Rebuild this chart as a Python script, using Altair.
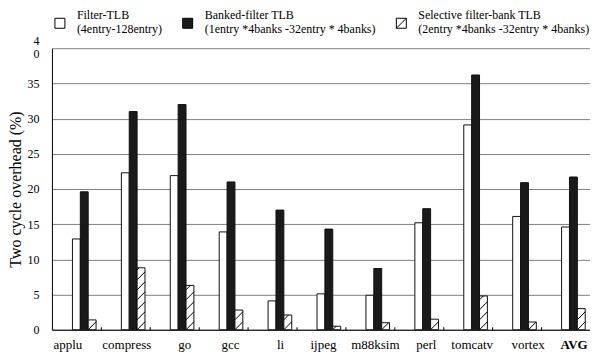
import json
import altair as alt
import pandas as pd

# ---- data ----
categories = ["applu", "compress", "go", "gcc", "li", "ijpeg",
              "m88ksim", "perl", "tomcatv", "vortex", "AVG"]
series = ["Filter-TLB", "Banked-filter TLB", "Selective filter-bank TLB"]
series_sub = ["(4entry-128entry)",
              "(1entry *4banks -32entry * 4banks)",
              "(2entry *4banks -32entry * 4banks)"]
filter_tlb = [12.9, 22.3, 21.9, 13.9, 4.1, 5.1, 4.9, 15.2, 29.1, 16.1, 14.6]
banked_filter = [19.6, 31.0, 32.0, 21.0, 17.0, 14.3, 8.7, 17.2, 36.2, 20.9, 21.7]
selective_bank = [1.4, 8.8, 6.3, 2.8, 2.1, 0.5, 1.0, 1.5, 4.8, 1.1, 3.0]
y_ticks = [0, 5, 10, 15, 20, 25, 30, 35, 40]

# ---- layout / style settings ----
W, H = 539, 282
FONT = "Liberation Serif"
SLOT_W = 0.161          # bar width in category units
SLOT_PAD = 0.0975       # outer padding in category units
SLOTS = [2, 3, 4]       # Excel-like 5-slot layout, first two empty
label_offsets_px = [-9, 1, 10, 7, 8, 2, 5, 7, 4, 11, 8]
legend_pad_front = [5, 14, 8]
HATCH_RISE = 8 / (H / 40)     # data units
HATCH_STEP = 10 / (H / 40)
band_px = W / len(categories)

values = [filter_tlb, banked_filter, selective_bank]
rows = []
for s_i, (name, vals) in enumerate(zip(series, values)):
    for c_i, (cat, v) in enumerate(zip(categories, vals)):
        x0 = c_i + SLOT_PAD + SLOTS[s_i] * SLOT_W
        rows.append({"cat": cat, "series": name, "value": v, "base": 0.0,
                     "x": x0, "x2": x0 + SLOT_W})
df = pd.DataFrame(rows)

# hatch segments for the selective bars, clipped to each bar
hatch = []
for c_i, v in enumerate(selective_bank):
    xl = c_i + SLOT_PAD + SLOTS[2] * SLOT_W
    k = -1
    while k * HATCH_STEP < v:
        c = k * HATCH_STEP
        t0 = max(0.0, (0 - c) / HATCH_RISE)
        t1 = min(1.0, (v - c) / HATCH_RISE)
        if t0 < t1:
            hatch.append({"hx1": xl + t0 * SLOT_W, "hy1": c + t0 * HATCH_RISE,
                          "hx2": xl + t1 * SLOT_W, "hy2": c + t1 * HATCH_RISE})
        k += 1
hdf = pd.DataFrame(hatch)

xscale = alt.Scale(domain=[0, len(categories)], nice=False, zero=False)
yscale = alt.Scale(domain=[0, 40], nice=False)
fill_scale = alt.Scale(domain=series, range=["#ffffff", "#1a1a1a", "#ffffff"])
stroke_scale = alt.Scale(domain=series, range=["#000000", "#000000", "#000000"])
shape_scale = alt.Scale(domain=series, range=[
    "M-1,-1H1V1H-1Z", "M-1,-1H1V1H-1Z", "M-1,-1H1V1H-1Z M-1,1L1,-1"])

NB = "\u00a0"
parts = []
for name, sub, pf in zip(series, series_sub, legend_pad_front):
    parts.append((name, [NB * pf + name, sub]))
expr = "datum.label"
for name, lines in reversed(parts):
    expr = f"datum.label == {json.dumps(name)} ? {json.dumps(lines, ensure_ascii=False)} : ({expr})"

legend = alt.Legend(title=None, orient="none", legendX=2, legendY=-31,
                    direction="horizontal", labelExpr=expr, labelFont=FONT,
                    labelFontSize=12, labelColor="black", labelLimit=400,
                    labelBaseline="line-bottom",
                    symbolSize=100, symbolStrokeColor="black",
                    symbolStrokeWidth=1, columnPadding=18,
                    labelOffset=11, padding=0)

# category label positions: band centre plus a small per-label shift
label_pos = [i + 0.5 + o / band_px for i, o in enumerate(label_offsets_px)]

x_axis = alt.Axis(
    values=label_pos,
    labelExpr=f"{json.dumps(categories)}[floor(datum.value)]",
    labelFontWeight={"condition": {"test": f"datum.value > {len(categories) - 1}",
                                   "value": "bold"}, "value": "normal"},
    labelFont=FONT, labelFontSize=13, labelColor="black", labelPadding=9,
    ticks=False, grid=False, domainColor="black", title=None, labelAngle=0,
    orient="bottom")

y_axis = alt.Axis(values=y_ticks, grid=True, gridColor="#808080", gridWidth=1,
                  ticks=False, domainColor="black",
                  labelExpr="datum.value == 40 ? ['4','0'] : datum.label",
                  labelOffset={"condition": {"test": "datum.value == 40", "value": -8},
                               "value": 0},
                  labelLineHeight=13,
                  labelFont=FONT, labelFontSize=12, labelColor="black",
                  labelPadding=13, title="Two cycle overhead (%)",
                  titleFont=FONT, titleFontSize=16, titleFontWeight="normal",
                  titleColor="black", titlePadding=3)

bars = alt.Chart(df).mark_rect(stroke="#111111", strokeWidth=1).encode(
    x=alt.X("x:Q", scale=xscale, axis=x_axis),
    x2="x2:Q",
    y=alt.Y("value:Q", scale=yscale, axis=y_axis),
    y2="base:Q",
    fill=alt.Fill("series:N", scale=fill_scale, legend=legend),
)

# category boundary ticks (small, pointing up from the baseline)
boundary_axis = alt.Axis(orient="top", offset=-H,
                         values=list(range(1, len(categories))),
                         labels=False, domain=False, grid=False, ticks=True,
                         tickSize=3, tickColor="black", title=None)

hatch_layer = alt.Chart(hdf).mark_rule(color="black", strokeWidth=1).encode(
    x=alt.X("hx1:Q", scale=xscale, axis=boundary_axis),
    x2="hx2:Q",
    y=alt.Y("hy1:Q", scale=yscale, axis=y_axis),
    y2="hy2:Q",
)

legend_layer = alt.Chart(df).mark_point(filled=True, strokeWidth=1).encode(
    fill=alt.Fill("series:N", scale=fill_scale, legend=legend),
    stroke=alt.Stroke("series:N", scale=stroke_scale, legend=legend),
    shape=alt.Shape("series:N", scale=shape_scale, legend=legend),
).transform_filter("false")

chart = alt.layer(bars, hatch_layer, legend_layer).resolve_axis(
    x="independent"
).properties(
    width=W, height=H,
    padding={"left": 0, "top": 9, "right": 0, "bottom": 2},
    background="white",
).configure_view(stroke=None).configure_point(opacity=1)

chart.save("out.html", embed_options={"renderer": "svg", "actions": False})
